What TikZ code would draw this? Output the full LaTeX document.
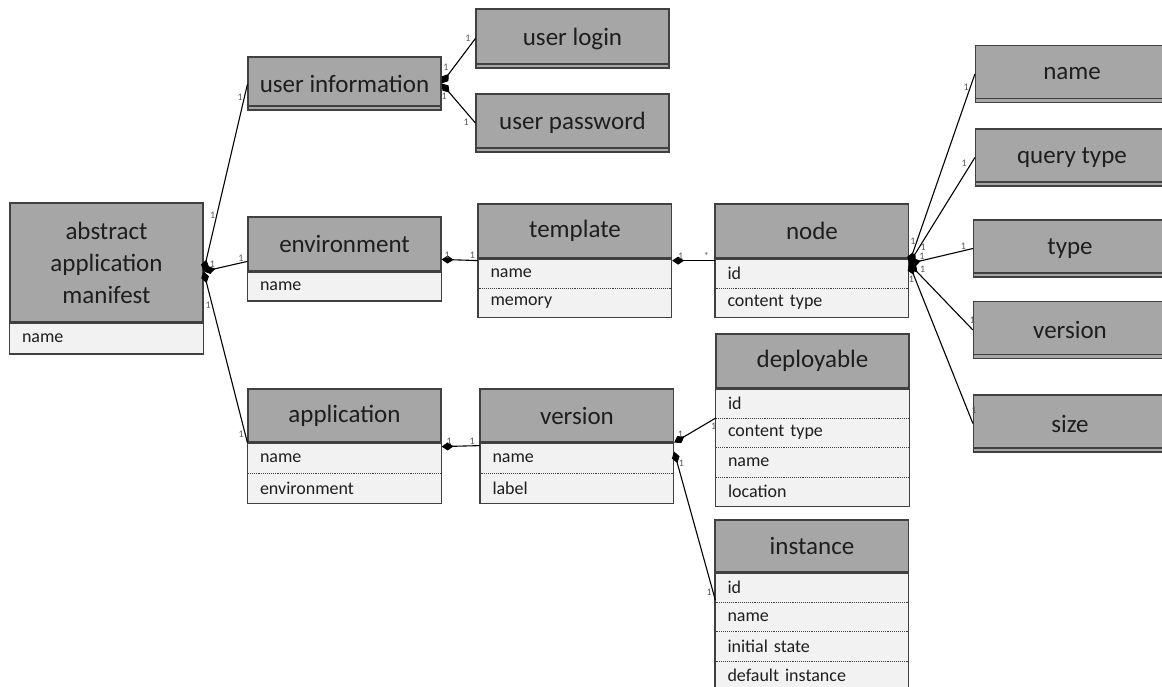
\documentclass[tikz,border=0pt]{standalone}
\usepackage{fontspec}
\setmainfont{Carlito}
\usetikzlibrary{arrows.meta, positioning}
\definecolor{hdrgray}{RGB}{166,166,166}
\definecolor{rowgray}{RGB}{242,242,242}
\definecolor{border}{RGB}{64,64,64}
\definecolor{txt}{RGB}{30,30,30}

\begin{document}
\begin{tikzpicture}[x=1pt,y=-1pt,
     hdr/.style={draw=border,fill=hdrgray,line width=1.2pt,minimum width=193pt,minimum height=54pt,
                 inner sep=0pt,align=center,text=txt,font=\fontsize{25}{32}\selectfont},
     leaf/.style={hdr,minimum height=57pt,
                 path picture={\draw[border,line width=1.2pt] ([yshift=4pt]path picture bounding box.south west)
                                 -- ([yshift=4pt]path picture bounding box.south east);}},
     row/.style={fill=rowgray,minimum width=193pt,minimum height=29pt,text width=169pt,inner xsep=12pt,
                 inner ysep=0pt,align=left,text=txt,font=\fontsize{18}{20}\selectfont,
                 path picture={\draw[sep] (path picture bounding box.north west) -- (path picture bounding box.north east);}},
     sep/.style={draw=border,densely dotted,line width=0.9pt},
     frame/.style={draw=border,line width=1.2pt},
     comp/.style={draw=black,line width=1.1pt,{Diamond[length=12pt,width=8pt]}-},
     mult/.style={font=\fontsize{10}{10}\selectfont,text=black!65,inner sep=1pt}]
    \clip (0,0) rectangle (1162,687);

    % classes with attributes
    \node[hdr,minimum height=119pt] (abs) at (106.5,262.5) {abstract\\application\\manifest};
    \node[row,below=0pt of abs,minimum height=31pt] (abs-1) {name};

    \node[hdr] (env) at (344.5,244) {environment};
    \node[row,below=0pt of env] (env-1) {name};

    \node[hdr] (tpl) at (575,231) {template};
    \node[row,below=0pt of tpl] (tpl-1) {name};
    \node[row,below=0pt of tpl-1] (tpl-2) {memory};

    \node[hdr] (nd) at (812,231) {node};
    \node[row,below=0pt of nd] (nd-1) {id};
    \node[row,below=0pt of nd-1] (nd-2) {content type};

    \node[hdr,minimum height=53pt] (app) at (344.5,415.5) {application};
    \node[row,below=0pt of app,minimum height=30pt] (app-1) {name};
    \node[row,below=0pt of app-1,minimum height=30pt] (app-2) {environment};

    \node[hdr,minimum height=53pt] (ver) at (577,415.5) {version};
    \node[row,below=0pt of ver,minimum height=30pt] (ver-1) {name};
    \node[row,below=0pt of ver-1,minimum height=30pt] (ver-2) {label};

    \node[hdr] (dep) at (812.5,361) {deployable};
    \node[row,below=0pt of dep] (dep-1) {id};
    \node[row,below=0pt of dep-1] (dep-2) {content type};
    \node[row,below=0pt of dep-2] (dep-3) {name};
    \node[row,below=0pt of dep-3] (dep-4) {location};

    \node[hdr,minimum height=52pt] (inst) at (812,546) {instance};
    \node[row,below=0pt of inst] (inst-1) {id};
    \node[row,below=0pt of inst-1] (inst-2) {name};
    \node[row,below=0pt of inst-2] (inst-3) {initial state};
    \node[row,below=0pt of inst-3] (inst-4) {default instance};

    \foreach \c/\l in {abs/abs-1,env/env-1,tpl/tpl-2,nd/nd-2,app/app-2,ver/ver-2,dep/dep-4,inst/inst-4} {
      \draw[frame] (\c.north west) rectangle (\l.south east);
      \draw[frame,line width=2.2pt] (\c.south west) -- (\c.south east);
    }

    % plain value boxes
    \node[leaf,minimum height=53pt] (uinf) at (344.5,83.5) {user information};
    \node[leaf,minimum height=59pt] (ulog) at (572.5,38.5) {user login};
    \node[leaf,minimum height=58pt] (upass) at (572.5,123) {user password};
    \node[leaf] (rname) at (1072,74) {name};
    \node[leaf] (rquery) at (1072,157.5) {query type};
    \node[leaf] (rtype) at (1070,248.5) {type};
    \node[leaf] (rver) at (1070,330) {version};
    \node[leaf] (rsize) at (1070,423.5) {size};

    % compositions
    \draw[comp] ([yshift=-69pt]abs.north east) -- node[mult,pos=0.3,left] {1} node[mult,pos=0.93,left] {1} ([yshift=-28pt]uinf.north west);
    \draw[comp] ([yshift=-69pt]abs.north east) -- node[mult,pos=0.2,above] {1} node[mult,pos=0.85,above] {1} ([yshift=-45pt]env.north west);
    \draw[comp] ([yshift=-69pt]abs.north east) -- node[mult,pos=0.2,left] {1} node[mult,pos=0.95,left] {1} (app.south west);

    \draw[comp] (uinf.east) -- node[mult,pos=0.25,above left] {1} node[mult,pos=0.9,above left] {1} (ulog.west);
    \draw[comp] (uinf.east) -- node[mult,pos=0.2,below left] {1} node[mult,pos=0.85,below left] {1} (upass.west);

    \draw[comp] ([yshift=-43pt]env.north east) -- node[mult,pos=0.15,above] {1} node[mult,pos=0.85,above] {1} ([yshift=-2pt]tpl.south west);
    \draw[comp] ([yshift=-2pt]tpl.south east) -- node[mult,pos=0.2,above] {1} node[mult,pos=0.8,above] {*} ([yshift=-2pt]nd.south west);

    \draw[comp] ([yshift=-5pt]nd.south east) -- node[mult,pos=0.12,left] {1} node[mult,pos=0.93,left] {1} (rname.west);
    \draw[comp] ([yshift=-5pt]nd.south east) -- node[mult,pos=0.15,right] {1} node[mult,pos=0.9,above left] {1} (rquery.west);
    \draw[comp] ([yshift=-5pt]nd.south east) -- node[mult,pos=0.2,above] {1} node[mult,pos=0.85,above] {1} (rtype.west);
    \draw[comp] ([yshift=-5pt]nd.south east) -- node[mult,pos=0.15,above right] {1} node[mult,pos=0.93,above right] {1} (rver.west);
    \draw[comp] ([yshift=-5pt]nd.south east) -- node[mult,pos=0.1,left] {1} node[mult,pos=0.95,above right] {1} (rsize.west);

    \draw[comp] ([yshift=-4pt]app.south east) -- node[mult,pos=0.2,above] {1} node[mult,pos=0.8,above] {1} ([yshift=-3pt]ver.south west);
    \draw[comp] (ver.south east) -- node[mult,pos=0.15,above] {1} node[mult,pos=0.85,below right] {1} (dep-1.south west);
    \draw[comp] ([yshift=-9pt]ver.south east) -- node[mult,pos=0.08,right] {1} node[mult,pos=0.95,left] {1} ([yshift=2pt]inst-1.south west);
\end{tikzpicture}
\end{document}
